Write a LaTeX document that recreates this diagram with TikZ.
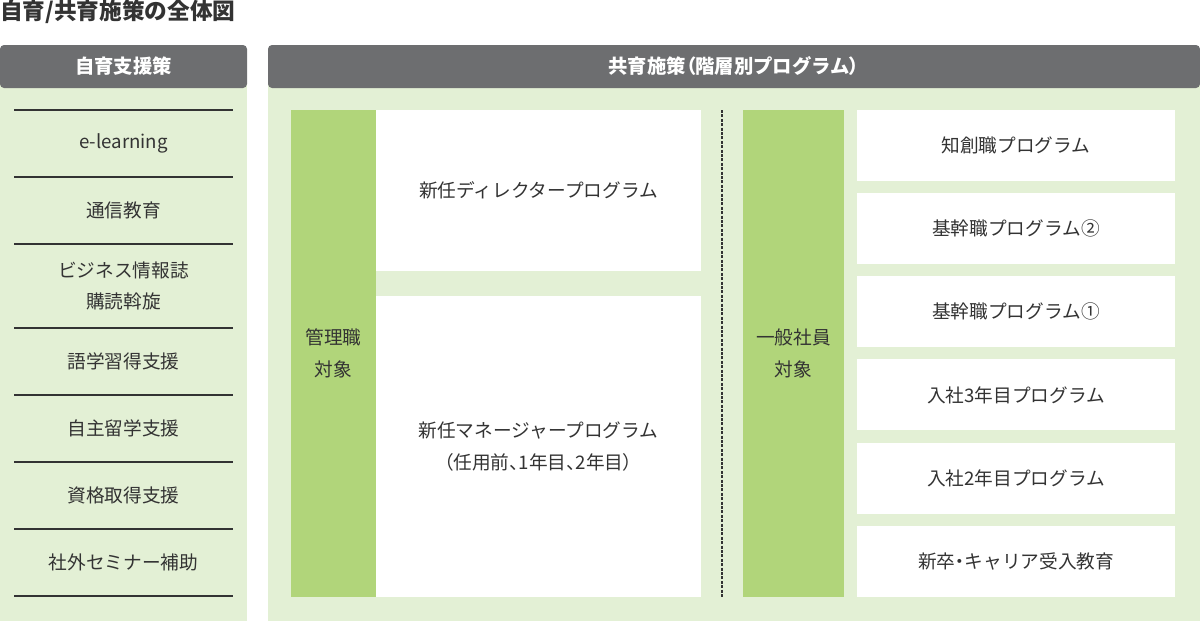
\documentclass[tikz,border=0pt]{standalone}
\usepackage{fontspec}
\setmainfont{Noto Sans CJK JP}
\newfontfamily\pfont[RawFeature=+palt]{Noto Sans CJK JP}
\newcommand{\pp}[1]{{\pfont #1}}
\usetikzlibrary{fit,positioning}
\definecolor{hdgray}{HTML}{6D6E70}
\definecolor{palegreen}{HTML}{E3F0D5}
\definecolor{bargreen}{HTML}{B1D57A}
\definecolor{txtgray}{HTML}{333333}

\begin{document}
\begin{tikzpicture}[x=0.75pt,y=-0.75pt,text=txtgray,font=\fontsize{14pt}{23.5pt}\selectfont]
             \tikzstyle{panel} = [fill=palegreen,inner sep=0pt]
             \tikzstyle{header} = [fill=hdgray,rounded corners=3pt,inner sep=0pt]
             \tikzstyle{headtext} = [inner sep=0pt,text=white,font=\fontsize{14.5pt}{20pt}\selectfont\bfseries]
             \tikzstyle{target} = [fill=bargreen,inner sep=0pt]
             \tikzstyle{program} = [fill=white,inner sep=0pt]
             \tikzstyle{item} = [inner sep=0pt,align=center]
             \tikzstyle{rule} = [draw=txtgray,line width=1.1pt]
		\useasboundingbox (0,0) rectangle (1200,621);
		% Title
		\node[anchor=west,inner sep=0pt,font=\fontsize{17pt}{20pt}\selectfont\bfseries] at (0,12)(title) {自育/共育施策の全体図};
		% Self-development panel
		\node[panel,fit={(0,80) (247,621)}] (self_body) {};
		\node[header,fit={(0,45) (247,88)}] (self_head) {};
		\node[headtext] at (self_head)(self_head_t) {自育支援策};
		\draw[rule] (14,110) -- (233,110);
		\node[item] at (123.5,143.5)(self_1) {e-learning};
		\draw[rule] (14,177) -- (233,177);
		\node[item] at (123.5,210.5)(self_2) {通信教育};
		\draw[rule] (14,244) -- (233,244);
		\node[item] at (123.5,286)(self_3) {ビジネス情報誌\\購読斡旋};
		\draw[rule] (14,328) -- (233,328);
		\node[item] at (123.5,361.5)(self_4) {語学習得支援};
		\draw[rule] (14,395) -- (233,395);
		\node[item] at (123.5,428.5)(self_5) {自主留学支援};
		\draw[rule] (14,462) -- (233,462);
		\node[item] at (123.5,495.5)(self_6) {資格取得支援};
		\draw[rule] (14,529) -- (233,529);
		\node[item] at (123.5,562.5)(self_7) {社外セミナー補助};
		\draw[rule] (14,596) -- (233,596);
		% Co-development panel
		\node[panel,fit={(268,80) (1200,621)}] (co_body) {};
		\node[header,fit={(268,45) (1200,88)}] (co_head) {};
		\node[headtext] at (co_head)(co_head_t) {共育施策\pp{（}階層別プログラム\pp{）}};
		% Managers
		\node[target,fit={(291,110) (376,597)}] (mgr) {};
		\node[item] at (mgr)(mgr_t) {管理職\\対象};
		\node[program,fit={(376,110) (701,271)}] (mgr_1) {};
		\node[item] at (mgr_1)(mgr_1_t) {新任ディレクタープログラム};
		\node[program,fit={(376,296) (701,597)}] (mgr_2) {};
		\node[item] at (mgr_2)(mgr_2_t) {新任マネージャープログラム\\\pp{（}任用前\pp{、}1年目\pp{、}2年目\pp{）}};
		% Divider
		\draw[draw=txtgray,line width=0.8pt,dash pattern=on 2.2pt off 1.1pt] (722,110) -- (722,597);
		% Employees
		\node[target,fit={(743,110) (844,597)}] (emp) {};
		\node[item] at (emp)(emp_t) {一般社員\\対象};
		\node[program,fit={(857,109.5) (1175,180.5)}] (emp_1) {};
		\node[item] at (emp_1)(emp_1_t) {知創職プログラム};
		\node[program,fit={(857,192.8) (1175,263.8)}] (emp_2) {};
		\node[item] at (emp_2)(emp_2_t) {基幹職プログラム②};
		\node[program,fit={(857,276.1) (1175,347.1)}] (emp_3) {};
		\node[item] at (emp_3)(emp_3_t) {基幹職プログラム①};
		\node[program,fit={(857,359.4) (1175,430.4)}] (emp_4) {};
		\node[item] at (emp_4)(emp_4_t) {入社3年目プログラム};
		\node[program,fit={(857,442.7) (1175,513.7)}] (emp_5) {};
		\node[item] at (emp_5)(emp_5_t) {入社2年目プログラム};
		\node[program,fit={(857,526) (1175,597)}] (emp_6) {};
		\node[item] at (emp_6)(emp_6_t) {新卒\pp{・}キャリア受入教育};
\end{tikzpicture}
\end{document}
